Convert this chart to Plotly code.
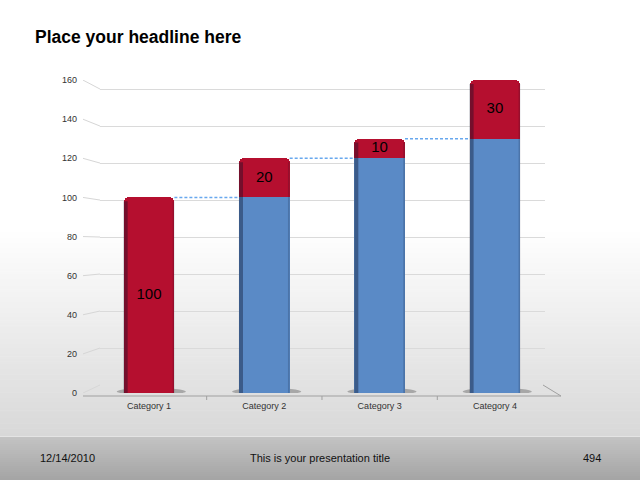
import plotly.graph_objects as go

# ---------------- data ----------------
categories = ["Category 1", "Category 2", "Category 3", "Category 4"]
base_values = [0, 100, 120, 130]      # blue base part
delta_values = [100, 20, 10, 30]      # red increment part
delta_labels = ["100", "20", "10", "30"]
y_ticks = [0, 20, 40, 60, 80, 100, 120, 140, 160]

headline = "Place your headline here"
footer_date = "12/14/2010"
footer_title = "This is your presentation title"
footer_page = "494"

# ---------------- layout geometry ----------------
W, H = 640, 480
L, R, T, B = 100, 545, 80, 393


def fx(px):
    return (px - L) / (R - L)


def fy(py):
    return (B - py) / (B - T)


FONT = "Liberation Sans, Arial, sans-serif"
RED = "#B50F2F"
BLUE = "#5A8AC6"
bar_w = 0.44
x_pos = list(range(len(categories)))
totals = [b + d for b, d in zip(base_values, delta_values)]
label_y = [b + d / 2 for b, d in zip(base_values, delta_values)]

fig = go.Figure()
fig.add_bar(x=x_pos, y=base_values, width=bar_w,
            marker=dict(color=BLUE, line=dict(width=0)),
            hoverinfo="skip", showlegend=False)
fig.add_bar(x=x_pos, y=delta_values, width=bar_w,
            marker=dict(color=RED, line=dict(width=0)),
            hoverinfo="skip", showlegend=False)
fig.add_scatter(x=x_pos, y=label_y, mode="text", text=delta_labels,
                textposition="middle center",
                textfont=dict(color="black", size=15, family=FONT),
                hoverinfo="skip", showlegend=False)
# invisible trace to activate back-wall grid axis
fig.add_scatter(x=[x_pos[0]], y=[0], yaxis="y2", mode="markers",
                marker=dict(opacity=0), hoverinfo="skip", showlegend=False)

shapes = []

# background gradient (white -> light gray), then footer band
top_start, top_end = 230, 436
n = 80
for k in range(n):
    y0 = top_start + (top_end - top_start) * k / n
    y1 = top_start + (top_end - top_start) * (k + 1) / n
    t = (k + 0.5) / n
    c = int(round(255 - (255 - 216) * t))
    shapes.append(dict(type="rect", xref="paper", yref="paper", layer="below",
                       x0=fx(0), x1=fx(W), y0=fy(y1 + 0.5), y1=fy(y0),
                       fillcolor=f"rgb({c},{c},{c})", line=dict(width=0)))
nf = 22
for k in range(nf):
    y0 = 436 + (H - 436) * k / nf
    y1 = 436 + (H - 436) * (k + 1) / nf
    t = (k + 0.5) / nf
    c = int(round(196 - (196 - 164) * t))
    shapes.append(dict(type="rect", xref="paper", yref="paper", layer="below",
                       x0=fx(0), x1=fx(W), y0=fy(y1 + 0.5), y1=fy(y0),
                       fillcolor=f"rgb({c},{c},{c})", line=dict(width=0)))
shapes.append(dict(type="line", xref="paper", yref="paper", layer="below",
                   x0=fx(0), x1=fx(W), y0=fy(436.5), y1=fy(436.5),
                   line=dict(color="#e4e4e4", width=1)))

# diagonal stubs from front tick labels to back-wall gridlines
for v in y_ticks:
    off = -8 + 0.106 * v
    shapes.append(dict(type="line", xref="paper", xsizemode="pixel", xanchor=0,
                       x0=-17, x1=0, yref="y2", ysizemode="pixel", yanchor=v,
                       y0=off, y1=0, layer="below",
                       line=dict(color="#d6d6d6", width=1)))

# floor front edge, right diagonal, ticks (paper-referenced so not clipped)
shapes.append(dict(type="line", xref="paper", yref="paper",
                   x0=fx(83), x1=fx(561), y0=fy(396), y1=fy(396),
                   line=dict(color="#a0a0a0", width=1)))
shapes.append(dict(type="line", xref="paper", yref="paper",
                   x0=fx(543), x1=fx(561), y0=fy(385), y1=fy(396),
                   line=dict(color="#a0a0a0", width=1)))
for i in range(len(categories) - 1):
    shapes.append(dict(type="line", xref="x", yref="paper",
                       x0=i + 0.5, x1=i + 0.5, y0=fy(396), y1=fy(400),
                       line=dict(color="#a0a0a0", width=1)))

# shadows at bar bases
for i in x_pos:
    shapes.append(dict(type="circle", xref="x", yref="y", ysizemode="pixel", yanchor=0,
                       x0=i - bar_w / 2 - 0.06, x1=i + bar_w / 2 + 0.1, y0=-2, y1=5,
                       fillcolor="rgba(60,60,60,0.35)", line=dict(width=0), layer="below"))

# dark left side and subtle right edge of bars (3D look)
for i in x_pos:
    shapes.append(dict(type="rect", xref="x", yref="y", layer="above",
                       x0=i - bar_w / 2, x1=i - bar_w / 2 + 0.035,
                       y0=0, y1=totals[i] - 2,
                       fillcolor="rgba(10,15,40,0.38)", line=dict(width=0)))
    shapes.append(dict(type="rect", xref="x", yref="y", layer="above",
                       x0=i + bar_w / 2 - 0.015, x1=i + bar_w / 2,
                       y0=0, y1=totals[i] - 2,
                       fillcolor="rgba(10,15,40,0.18)", line=dict(width=0)))

# dashed connectors between bar tops
for i in range(len(categories) - 1):
    shapes.append(dict(type="line", xref="x", yref="y",
                       x0=i + bar_w / 2, x1=i + 1 - bar_w / 2,
                       y0=totals[i], y1=totals[i],
                       line=dict(color="#68A8EE", width=1.5, dash="3px,2px")))

annotations = [
    dict(text=footer_date, xref="paper", yref="paper", x=fx(38), y=fy(458),
         xanchor="left", yanchor="middle", showarrow=False,
         font=dict(family=FONT, size=11, color="#111")),
    dict(text=footer_title, xref="paper", yref="paper", x=fx(320), y=fy(458),
         xanchor="center", yanchor="middle", showarrow=False,
         font=dict(family=FONT, size=11, color="#111")),
    dict(text=footer_page, xref="paper", yref="paper", x=fx(603), y=fy(458),
         xanchor="right", yanchor="middle", showarrow=False,
         font=dict(family=FONT, size=11, color="#111")),
]

fig.update_layout(
    width=W, height=H,
    margin=dict(l=L, r=W - R, t=T, b=H - B, pad=0),
    paper_bgcolor="white", plot_bgcolor="rgba(0,0,0,0)",
    barmode="stack", bargap=0,
    barcornerradius=5,
    showlegend=False,
    title=dict(text=headline, x=35 / W, xref="container", xanchor="left",
               y=1 - 37 / H, yref="container", yanchor="middle",
               font=dict(family=FONT, size=17.5, color="black", weight="bold")),
    xaxis=dict(range=[-0.425, 3.434], tickmode="array", tickvals=x_pos,
               ticktext=categories, showgrid=False, zeroline=False, showline=False,
               ticks="", ticklabelstandoff=6,
               tickfont=dict(family=FONT, size=9, color="#333")),
    yaxis=dict(range=[0, 160], tickmode="array", tickvals=y_ticks,
               showgrid=False, zeroline=False, showline=False, ticks="",
               ticklabelstandoff=22,
               tickfont=dict(family=FONT, size=9, color="#333")),
    yaxis2=dict(overlaying="y", range=[-4.32, 164.9], tickmode="array",
                tickvals=y_ticks[1:], showgrid=True, gridcolor="#dadada",
                gridwidth=1, showticklabels=False, zeroline=False, showline=False),
    shapes=shapes,
    annotations=annotations,
)

fig.write_html("out.html", config={"displayModeBar": False},
               post_script="document.body.style.margin='0';")
